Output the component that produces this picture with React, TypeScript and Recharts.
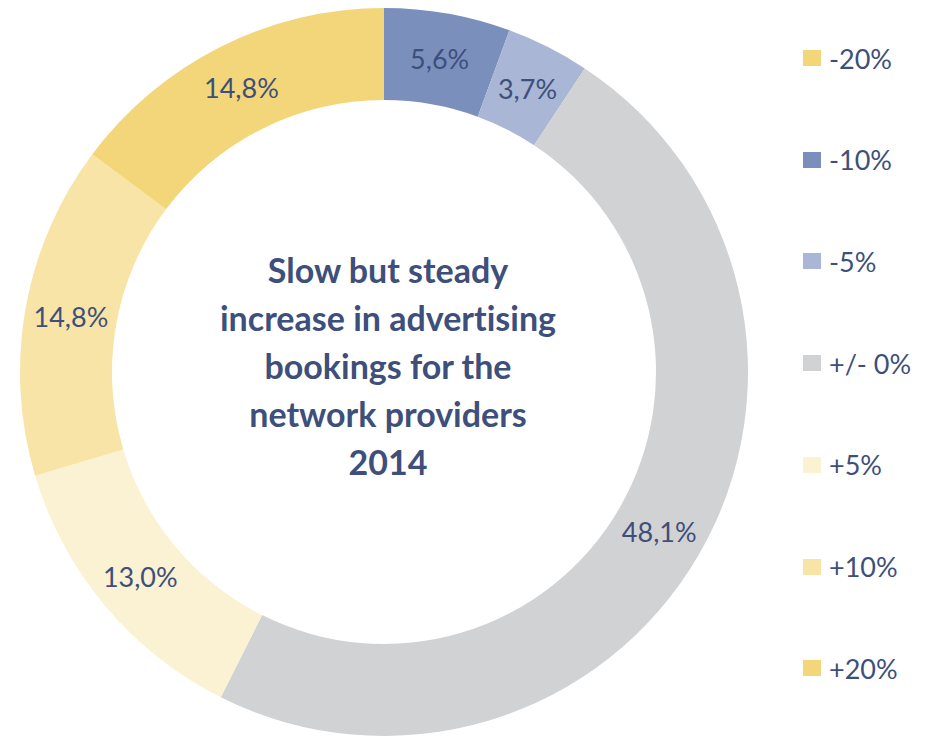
import React from "react";
import { Cell, Pie, PieChart } from "recharts";

const categories = ["-20%", "-10%", "-5%", "+/- 0%", "+5%", "+10%", "+20%"];
const shares = [0, 5.6, 3.7, 48.1, 13.0, 14.8, 14.8];
const colors = ["#F3D67A", "#7B8FBD", "#A9B6D5", "#D1D2D4", "#FBF1D3", "#F8E4A6", "#F3D67A"];
const titleLines = ["Slow but steady", "increase in advertising", "bookings for the", "network providers", "2014"];

const data = categories.map((name, i) => ({ name, value: shares[i] }));

const TEXT = "#3D4F7A";
const FONT = "Lato, 'Open Sans', sans-serif";
const RAD = Math.PI / 180;

function renderLabel(props: any) {
  const { cx, cy, midAngle, innerRadius, outerRadius, value } = props;
  if (!value) return null;
  const r = (innerRadius + outerRadius) / 2;
  const x = cx + r * Math.cos(-midAngle * RAD);
  const y = cy + r * Math.sin(-midAngle * RAD);
  return (
    <text x={x} y={y} fill={TEXT} fontSize={27} fontFamily={FONT} textAnchor="middle" dominantBaseline="central">
      {value.toFixed(1).replace(".", ",")}%
    </text>
  );
}

export default function App() {
  return (
    <div style={{ position: "absolute", left: 0, top: 0, width: 928, height: 737, background: "#fff" }}>
      <PieChart width={928} height={737} margin={{ top: 0, right: 0, bottom: 0, left: 0 }}>
        <Pie
          data={data}
          dataKey="value"
          nameKey="name"
          cx={384}
          cy={372}
          innerRadius={272}
          outerRadius={364}
          startAngle={90}
          endAngle={-270}
          stroke="none"
          labelLine={false}
          label={renderLabel}
          isAnimationActive={false}
        >
          {data.map((d, i) => (
            <Cell key={d.name} fill={colors[i]} />
          ))}
        </Pie>
      </PieChart>

      <div
        style={{
          position: "absolute",
          left: 138,
          top: 246,
          width: 500,
          textAlign: "center",
          fontFamily: FONT,
          fontWeight: 700,
          fontSize: 34,
          lineHeight: "48px",
          color: TEXT,
          fontVariantLigatures: "none",
        }}
      >
        {titleLines.map((l) => (
          <div key={l}>{l}</div>
        ))}
      </div>

      {categories.map((c, i) => (
        <div
          key={c}
          style={{
            position: "absolute",
            left: 803,
            top: 58 + i * 101.7 - 15,
            height: 30,
            display: "flex",
            alignItems: "center",
            fontFamily: FONT,
            fontSize: 27,
            color: TEXT,
          }}
        >
          <span style={{ width: 18, height: 16, background: colors[i], marginRight: 8, display: "inline-block" }} />
          {c}
        </div>
      ))}
    </div>
  );
}
